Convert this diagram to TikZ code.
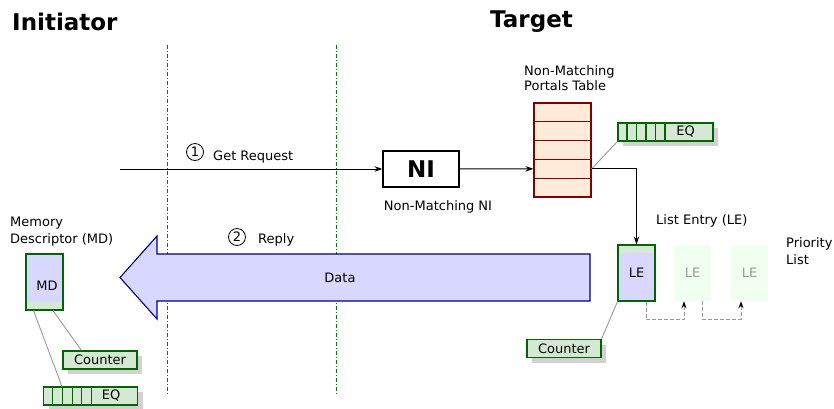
\documentclass[tikz,border=0pt]{standalone}
\usepackage{fontspec}
\setmainfont{DejaVu Sans}
\usepackage{xcolor}
\usetikzlibrary{arrows.meta}
\usetikzlibrary{shadows}

\definecolor{tablefill}{RGB}{255,235,215}
\definecolor{tableline}{RGB}{128,0,0}
\definecolor{eqfill}{RGB}{213,232,212}
\definecolor{eqline}{RGB}{0,100,0}
\definecolor{datafill}{RGB}{215,215,255}
\definecolor{dataline}{RGB}{0,0,128}
\definecolor{fadefill}{RGB}{240,255,240}
\definecolor{sepline}{RGB}{0,128,0}

\begin{document}
\begin{tikzpicture}[x=1pt,y=-1pt,
  >={Stealth[length=8pt,width=5.5pt]},
  every node/.style={font=\fontsize{13}{16}\selectfont, inner sep=0pt},
  title/.style={font=\bfseries\fontsize{23}{28}\selectfont},
  circnum/.style={circle, draw, line width=0.8pt, minimum size=17pt},
  nibox/.style={draw, line width=1.2pt, minimum width=76pt, minimum height=36pt,
    font=\bfseries\fontsize{23}{28}\selectfont},
  tablerow/.style={draw=tableline, fill=tablefill, line width=1.1pt,
    minimum width=57pt, minimum height=18.8pt},
  eqbox/.style={draw=eqline, fill=eqfill, line width=1.1pt, minimum height=18pt,
    drop shadow={shadow xshift=5pt, shadow yshift=-5pt, fill=black!18, opacity=1}},
  lebox/.style={draw=eqline, fill=datafill, line width=1.1pt,
    minimum width=37pt, minimum height=56pt},
  fadebox/.style={fill=fadefill, text=black!40, minimum width=37pt, minimum height=56pt},
  sep/.style={sepline, line width=0.9pt, dash pattern=on 4pt off 2pt on 1pt off 2pt},
  link/.style={black!40, line width=0.9pt},
  flow/.style={->, line width=1pt},
  next/.style={black!40, line width=1pt, dash pattern=on 4pt off 2pt,
    -{Stealth[length=7pt,width=5pt,color=black]}}]
  \useasboundingbox (0,0) rectangle (834,408);

  \node (init) [title, anchor=west] at (12,22) {Initiator};
  \node (tgt) [title, anchor=west] at (490,22) {Target};

  \draw[sep] (167,45) -- (167,395);
  \draw[sep] (336,45) -- (336,395);

  \coordinate (src) at (120,169);
  \node (ni) [nibox] at (421,169) {NI};
  \node (nilab) at (438,207) {Non-Matching NI};
  \node (one) [circnum] at (195,152) {1};
  \node (getreq) [anchor=west] at (213,157) {Get Request};
  \draw[flow] (src) -- (ni);

  \node (ptlab) [anchor=west, align=left, font=\fontsize{13}{14.3}\selectfont]
    at (524,78) {Non-Matching\\Portals Table};
  \foreach \r in {1,...,5}
    \node (row\r) [tablerow] at (562.5,{103+18.8*(\r-0.5)}) {};
  \draw[flow] (ni) -- (row4);

  \node (eqt) [eqbox, minimum width=95pt] at (665.5,132) {};
  \foreach \i in {1,...,5}
    \draw[eqline, line width=1.1pt] ([xshift=\i*9.5pt]eqt.north west) -- ([xshift=\i*9.5pt]eqt.south west);
  \node (eqtl) at ([xshift=-28pt]eqt.east) {EQ};
  \draw[link] (row4.east) -- (eqt.south west);

  \node (le) [lebox, path picture={\fill[eqfill] (path picture bounding box.north west)
    rectangle ([yshift=-8pt]path picture bounding box.north east);}] at (636.5,273) {LE};
  \node (le2) [fadebox] at (692.5,273) {LE};
  \node (le3) [fadebox] at (749.5,273) {LE};
  \node (lelab) [anchor=west] at (656,221) {List Entry (LE)};
  \node (prio) [anchor=west, align=left, font=\fontsize{13}{17}\selectfont]
    at (786,251) {Priority\\List};
  \draw[flow] (row4.east) -| (le.north);
  \draw[next] ([xshift=9.5pt]le.south) -- ++(0,18) -| ([xshift=-8.5pt]le2.south);
  \draw[next] ([xshift=9.5pt]le2.south) -- ++(0,18) -| ([xshift=-8.5pt]le3.south);

  \node (ctrr) [eqbox, minimum width=74pt] at (564,348.5) {Counter};
  \draw[link] (le.south west) -- (ctrr.north east);

  \draw[dataline, fill=datafill, line width=1.1pt] (590,254) -- (157,254) -- (157,236)
    -- (120,277.5) -- (157,319) -- (157,301) -- (590,301) -- cycle;
  \node (data) at (340,278) {Data};
  \node (two) [circnum] at (237,237) {2};
  \node (reply) [anchor=west] at (258,240) {Reply};

  \node (mdlab) [anchor=west, align=left, font=\fontsize{13}{17}\selectfont]
    at (10,232) {Memory\\Descriptor (MD)};
  \node (md) [lebox, path picture={\fill[eqfill] (path picture bounding box.south west)
    rectangle ([yshift=8pt]path picture bounding box.south east);}] at (44.5,282) {};
  \node (mdl) at (47,286) {MD};

  \node (ctrl) [eqbox, minimum width=74pt] at (100,360) {Counter};
  \node (eql) [eqbox, minimum width=94pt] at (90.5,396) {};
  \foreach \i in {1,...,5}
    \draw[eqline, line width=1.1pt] ([xshift=\i*9.7pt]eql.north west) -- ([xshift=\i*9.7pt]eql.south west);
  \node (eqll) at ([xshift=-27pt]eql.east) {EQ};
  \draw[link] ([xshift=8.5pt]md.south) -- ([xshift=19pt]ctrl.north west);
  \draw[link] ([xshift=-11pt]md.south) -- ([xshift=19pt]eql.north west);
\end{tikzpicture}
\end{document}
